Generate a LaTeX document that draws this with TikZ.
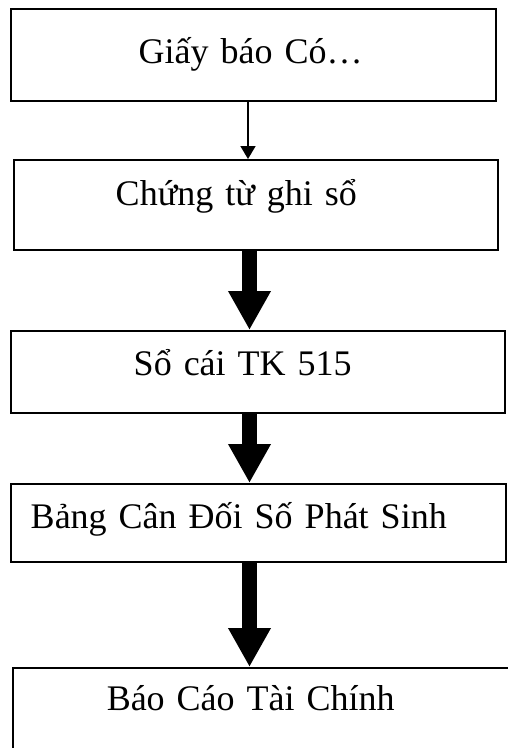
\documentclass[tikz,border=0pt]{standalone}
\usepackage{fontspec}
\setmainfont{Liberation Serif}
\usetikzlibrary{arrows.meta,positioning}
\definecolor{inkBlack}{RGB}{0, 0, 0}

\tikzset{
    stagebox/.style={draw=inkBlack, line width=1.5pt, anchor=north west, inner sep=0pt,
        align=left, font=\fontsize{36pt}{43pt}\selectfont},
    thinflow/.style={draw=inkBlack, line width=1.6pt, -{Triangle[width=15pt,length=13pt]}},
    fatflow/.style={draw=inkBlack, line width=14.5pt, -{Triangle[width=40pt,length=39pt]}}
}

\begin{document}
\begin{tikzpicture}[x=1pt, y=-1pt]
    \useasboundingbox (0,0) rectangle (508,748);
    \coordinate (thinaxis) at (248,0);
    \coordinate (fataxis) at (249.5,0);

    \node[stagebox, text width=485pt, text height=55pt, text depth=37pt] (giay) at (10,8)
        {\hspace*{128pt}Giấy báo Có…};
    \node[stagebox, text width=484pt, text height=46pt, text depth=44pt] (chungtu) at (13,159)
        {\hspace*{102pt}Chứng từ ghi sổ};
    \node[stagebox, text width=494pt, text height=45pt, text depth=37pt] (socai) at (10,330)
        {\hspace*{123pt}Sổ cái TK 515};
    \node[stagebox, text width=495pt, text height=45pt, text depth=33pt] (bangcdps) at (10,483)
        {\hspace*{20pt}Bảng Cân Đối Số Phát Sinh};
    \node[stagebox, text width=508pt, text height=43pt, text depth=60pt] (baocao) at (12,667)
        {\hspace*{94pt}Báo Cáo Tài Chính};

    \draw[thinflow] (giay.south -| thinaxis) -- (chungtu.north -| thinaxis);
    \draw[fatflow] (chungtu.south -| fataxis) -- (socai.north -| fataxis);
    \draw[fatflow] (socai.south -| fataxis) -- (bangcdps.north -| fataxis);
    \draw[fatflow] (bangcdps.south -| fataxis) -- (baocao.north -| fataxis);
\end{tikzpicture}
\end{document}
